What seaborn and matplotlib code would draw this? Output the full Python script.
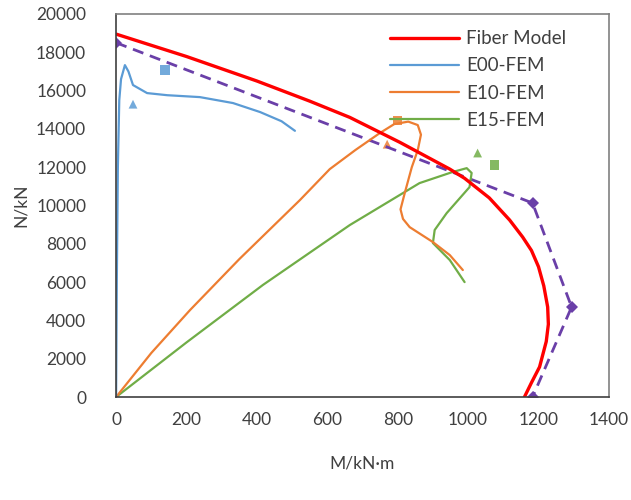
import matplotlib
matplotlib.use("Agg")
import matplotlib.pyplot as plt
import pandas as pd
import seaborn as sns

# interaction curves, M (kN·m) vs N (kN)
fiber_m = [0, 200, 400, 550, 664, 806, 948, 990, 1060, 1118, 1155, 1180, 1200, 1215, 1226, 1228, 1222, 1203, 1180, 1160]
fiber_n = [18950, 17780, 16500, 15450, 14600, 13300, 11900, 11420, 10400, 9240, 8350, 7650, 6800, 5800, 4700,
           3800, 2900, 1570, 750, 0]

e00_m = [0, 2, 5, 9, 14, 25, 35, 48, 88, 145, 238, 332, 409, 470, 508]
e00_n = [0, 6000, 12000, 15500, 16600, 17330, 17000, 16290, 15870, 15760, 15660, 15350, 14880, 14400, 13900]

e10_m = [0, 100, 210, 350, 522, 607, 680, 749, 790, 830, 857, 866, 857, 840, 820, 808, 815, 834, 900, 948, 985]
e10_n = [0, 2300, 4540, 7200, 10280, 11900, 12900, 13780, 14250, 14380, 14200, 13700, 12890, 12000, 10650,
         9800, 9300, 8870, 8090, 7410, 6630]

e15_m = [0, 200, 417, 664, 749, 862, 956, 996, 1010, 1004, 939, 905, 900, 948, 990]
e15_n = [0, 2850, 5850, 8980, 9920, 11170, 11750, 11950, 11700, 10960, 9600, 8720, 8040, 7150, 6000]

# simplified design envelope (dashed)
env_m = [0, 1183, 1294, 1183]
env_n = [18500, 10130, 4700, 0]

# test points
pt_series = ["E00-FEM", "E10-FEM", "E15-FEM"]
sq_m = [139, 800, 1075]
sq_n = [17070, 14450, 12110]
tri_m = [48, 770, 1027]
tri_n = [15290, 13200, 12740]

colors = {
    "Fiber Model": "#FF0000",
    "E00-FEM": "#5B9BD5",
    "E10-FEM": "#ED7D31",
    "E15-FEM": "#70AD47",
}

curves = pd.concat([
    pd.DataFrame({"M": fiber_m, "N": fiber_n, "series": "Fiber Model"}),
    pd.DataFrame({"M": e00_m, "N": e00_n, "series": "E00-FEM"}),
    pd.DataFrame({"M": e10_m, "N": e10_n, "series": "E10-FEM"}),
    pd.DataFrame({"M": e15_m, "N": e15_n, "series": "E15-FEM"}),
], ignore_index=True)
envelope = pd.DataFrame({"M": env_m, "N": env_n})

sns.set_style("white")
plt.rcParams["font.family"] = ["Lato", "DejaVu Sans"]

fig = plt.figure(figsize=(6.31, 5.0), dpi=100)
ax = fig.add_axes([0.184, 0.206, 0.781, 0.766])

sns.lineplot(data=envelope, x="M", y="N", sort=False, estimator=None, color="#6A3FA8",
             lw=2.0, ax=ax, marker="D", markersize=6, markeredgewidth=0)
ax.lines[-1].set_linestyle((0, (4, 2.5)))

for name in ["E15-FEM", "E10-FEM", "E00-FEM", "Fiber Model"]:
    sub = curves[curves["series"] == name]
    sns.lineplot(data=sub, x="M", y="N", sort=False, estimator=None, color=colors[name],
                 lw=2.4 if name == "Fiber Model" else 1.6, ax=ax, label=name)

sns.scatterplot(x=sq_m, y=sq_n, hue=pt_series, palette=colors, marker="s", s=45,
                edgecolor="none", alpha=0.85, legend=False, ax=ax)
sns.scatterplot(x=tri_m, y=tri_n, hue=pt_series, palette=colors, marker="^", s=40,
                edgecolor="none", alpha=0.85, legend=False, ax=ax)

ax.set_xlim(0, 1400)
ax.set_ylim(0, 20000)
ax.set_xticks(range(0, 1401, 200))
ax.set_yticks(range(0, 20001, 2000))
ax.tick_params(axis="both", direction="inout", length=9, width=1, colors="#404040",
               labelsize=12.5, labelcolor="#404040")
ax.tick_params(axis="x", pad=6)
ax.tick_params(axis="y", pad=17)
for s in ax.spines.values():
    s.set_color("#808080")
    s.set_linewidth(1.2)
ax.spines["left"].set_color("#404040")
ax.spines["bottom"].set_color("#404040")

ax.set_xlabel("M/kN·m", fontsize=12.5, color="#404040", labelpad=20)
ax.set_ylabel("N/kN", fontsize=12.5, color="#404040", labelpad=5)

handles, labels = ax.get_legend_handles_labels()
order = ["Fiber Model", "E00-FEM", "E10-FEM", "E15-FEM"]
hmap = dict(zip(labels, handles))
ax.legend([hmap[k] for k in order], order, loc="upper left", frameon=False,
          fontsize=13.5, handlelength=3.7, labelspacing=0.55, handletextpad=0.37,
          borderpad=0, borderaxespad=0, bbox_to_anchor=(0.556, 0.958), labelcolor="#404040")

fig.savefig("out.png", dpi=100)
